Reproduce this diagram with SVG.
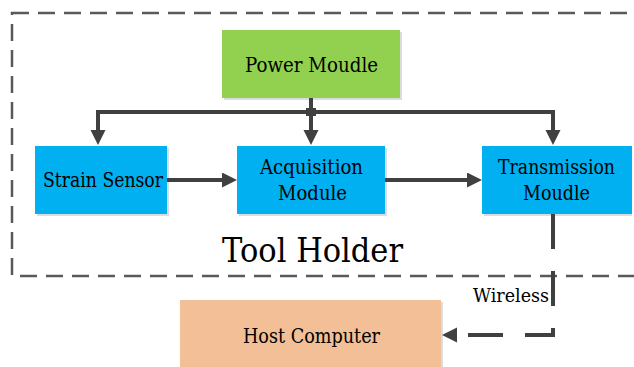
<svg xmlns="http://www.w3.org/2000/svg" width="634" height="367" viewBox="0 0 634 367">
  <style>
    .lbl { font-family: 'DejaVu Serif', 'Liberation Serif', serif; font-size: 20.5px; fill: #000; text-anchor: middle; }
    .box-shadow { fill: #dcdcdc; }
    .conn { fill: none; stroke: #404040; stroke-width: 4; }
  </style>
  <defs>
    <marker id="arrow" markerUnits="userSpaceOnUse" markerWidth="16" markerHeight="16" refX="6" refY="7.5" orient="auto">
      <path d="M0,0 L15,7.5 L0,15 Z" fill="#404040"/>
    </marker>
  </defs>

  <rect width="634" height="367" fill="#ffffff"/>

  <!-- tool holder boundary -->
  <g id="tool-holder">
    <rect x="12" y="13" width="700" height="263" fill="none" stroke="#595959" stroke-width="2.5" stroke-dasharray="17 9"/>
    <text class="lbl" x="312.5" y="262" style="font-size:33px" textLength="181" lengthAdjust="spacingAndGlyphs">Tool Holder</text>
  </g>

  <g id="power-module">
    <rect class="box-shadow" x="224" y="32" width="178" height="68"/>
    <rect x="222" y="30" width="178" height="68" fill="#92d050"/>
    <text class="lbl" x="311.5" y="72" textLength="133" lengthAdjust="spacingAndGlyphs">Power Moudle</text>
  </g>

  <g id="strain-sensor">
    <rect class="box-shadow" x="37" y="148" width="132" height="68"/>
    <rect x="35" y="146" width="132" height="68" fill="#00b0f0"/>
    <text class="lbl" x="103" y="187" textLength="120" lengthAdjust="spacingAndGlyphs">Strain Sensor</text>
  </g>

  <g id="acquisition-module">
    <rect class="box-shadow" x="239" y="148" width="148" height="68"/>
    <rect x="237" y="146" width="148" height="68" fill="#00b0f0"/>
    <text class="lbl" x="311.5" y="174" textLength="103" lengthAdjust="spacingAndGlyphs">Acquisition</text>
    <text class="lbl" x="312.5" y="200" textLength="69" lengthAdjust="spacingAndGlyphs">Module</text>
  </g>

  <g id="transmission-module">
    <rect class="box-shadow" x="484" y="148" width="148" height="68"/>
    <rect x="482" y="146" width="150" height="68" fill="#00b0f0"/>
    <text class="lbl" x="556.5" y="174" style="font-size:19.5px" textLength="117" lengthAdjust="spacingAndGlyphs">Transmission</text>
    <text class="lbl" x="556.5" y="200" textLength="67" lengthAdjust="spacingAndGlyphs">Moudle</text>
  </g>

  <g id="host-computer">
    <rect class="box-shadow" x="182" y="302" width="261" height="67"/>
    <rect x="180" y="300" width="261" height="67" fill="#f2bf96"/>
    <text class="lbl" x="311.5" y="343" textLength="137" lengthAdjust="spacingAndGlyphs">Host Computer</text>
  </g>

  <g id="connectors">
    <!-- power distribution bus -->
    <path class="conn" d="M311,98 V136"/>
    <path class="conn" d="M98,136 V112 H553 V136"/>
    <path class="conn" d="M98,113 V136" marker-end="url(#arrow)"/>
    <path class="conn" d="M311,113 V136" marker-end="url(#arrow)"/>
    <path class="conn" d="M553,113 V136" marker-end="url(#arrow)"/>
    <rect x="306" y="108" width="10" height="8" fill="#404040"/>
    <!-- signal chain -->
    <path class="conn" d="M167,180 H228" marker-end="url(#arrow)"/>
    <path class="conn" d="M385,180 H473" marker-end="url(#arrow)"/>
    <!-- wireless link -->
    <path class="conn" d="M553,214 V335 H451" stroke-dasharray="35 22" marker-end="url(#arrow)"/>
    <text class="lbl" x="511" y="302" style="font-size:19px" textLength="76" lengthAdjust="spacingAndGlyphs">Wireless</text>
  </g>
</svg>
